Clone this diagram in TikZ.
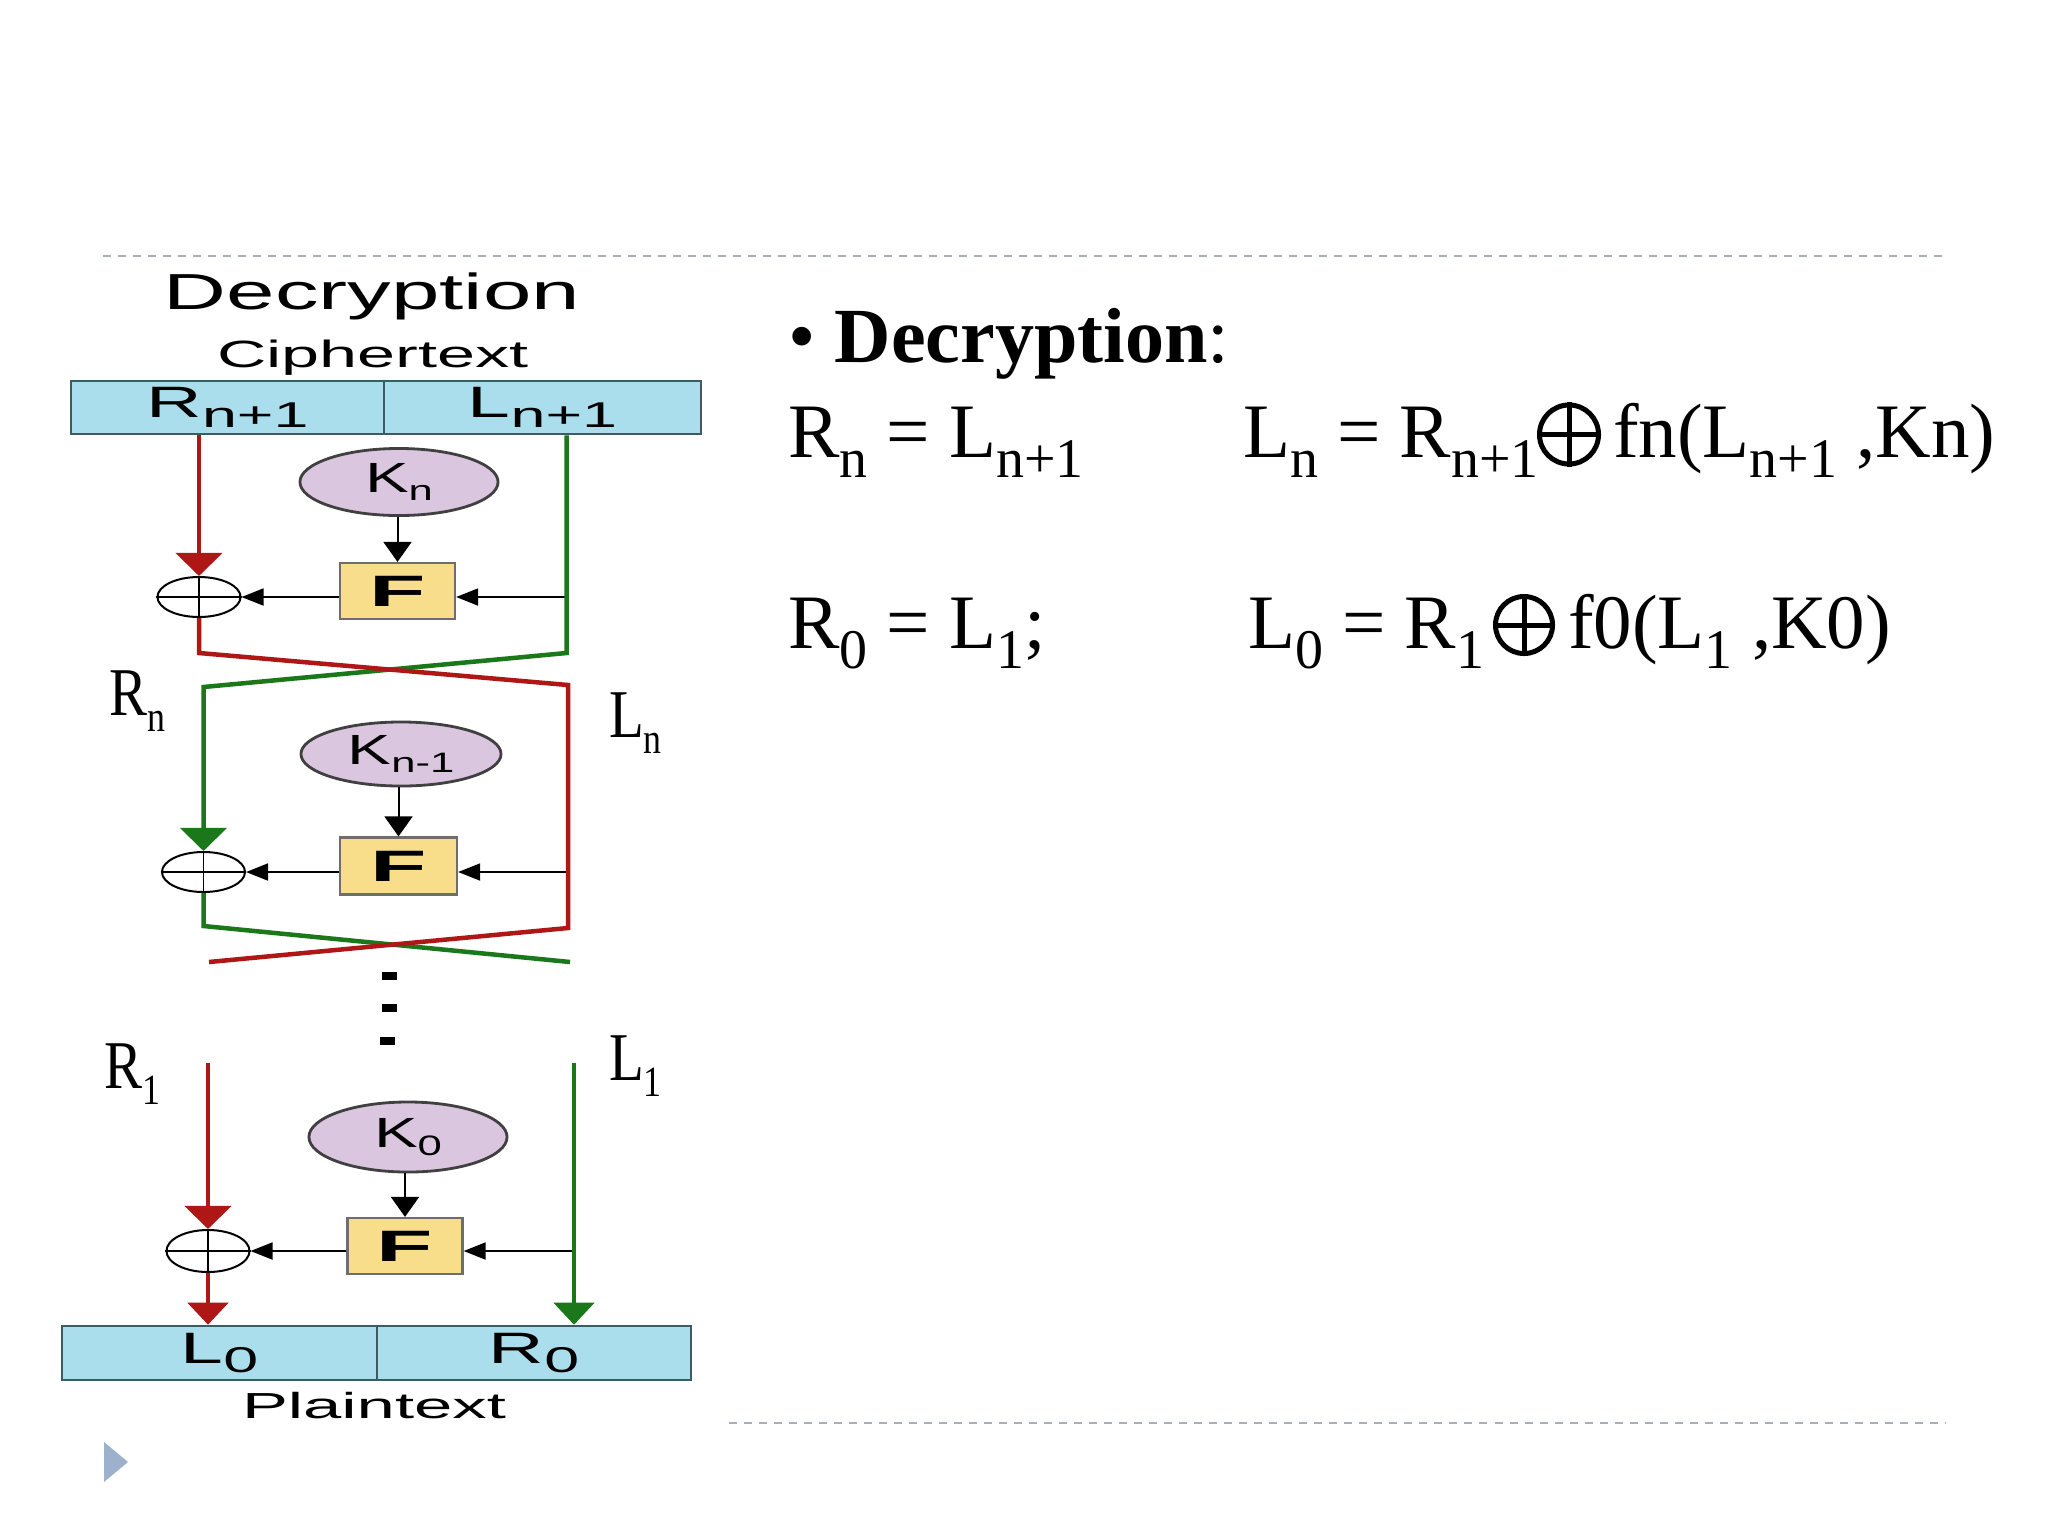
\documentclass[tikz,border=0pt]{standalone}
\usepackage{fontspec}
\usepackage{graphicx}
\setmainfont{Liberation Serif}
\newfontfamily\sansf{Liberation Sans}
\usetikzlibrary{shapes.geometric,arrows.meta}
\definecolor{redl}{RGB}{175,22,22}
\definecolor{grnl}{RGB}{26,120,26}
\definecolor{boxfill}{RGB}{170,222,236}
\definecolor{boxdraw}{RGB}{62,90,100}
\definecolor{keyfill}{RGB}{218,198,222}
\definecolor{keydraw}{RGB}{64,64,64}
\definecolor{ffill}{RGB}{248,221,138}
\definecolor{fdraw}{RGB}{110,110,110}
\definecolor{dashc}{RGB}{168,174,186}
\definecolor{tric}{RGB}{158,177,204}
\newcommand\dn[1]{\raisebox{-5.7pt}{\fontsize{15.9pt}{16pt}\selectfont #1}}
\newcommand\boxlbl[2]{\scalebox{1.75}[1]{\fontsize{12.5pt}{13pt}\selectfont\sansf #1\raisebox{-2.8pt}{\fontsize{10.2pt}{11pt}\selectfont #2}}}
\newcommand\keylbl[2]{\scalebox{1.55}[1]{\fontsize{12pt}{13pt}\selectfont\sansf #1\raisebox{-2.3pt}{\fontsize{8pt}{9pt}\selectfont #2}}}
\newcommand\sidelbl[2]{\scalebox{1}[1.2]{\fontsize{16.2pt}{17pt}\selectfont #1\raisebox{-4pt}{\fontsize{10.2pt}{11pt}\selectfont #2}}}
\newcommand\sanstxt[3]{\scalebox{#1}[1]{\fontsize{#2}{#2}\selectfont\sansf #3}}
\tikzset{
  halfbox/.style={draw=boxdraw, fill=boxfill, line width=0.025cm, minimum height=0.53cm, inner sep=0pt},
  keynode/.style={ellipse, draw=keydraw, fill=keyfill, line width=0.028cm, minimum width=1.98cm, minimum height=0.67cm, inner sep=0pt},
  fbox/.style={draw=fdraw, fill=ffill, line width=0.022cm, minimum width=1.15cm, minimum height=0.56cm, inner sep=0pt},
  xornode/.style={ellipse, draw=black, line width=0.02cm, minimum width=0.83cm, minimum height=0.40cm, inner sep=0pt},
  xorcross/.style={draw=black, line width=0.018cm},
  redw/.style={draw=redl, line width=0.045cm},
  grnw/.style={draw=grnl, line width=0.045cm},
  bigtip/.style={-{Triangle[length=0.23cm,width=0.46cm]}},
  endtip/.style={-{Triangle[length=0.22cm,width=0.40cm]}},
  blkv/.style={draw=black, line width=0.02cm, -{Triangle[length=0.20cm,width=0.28cm]}},
  blkh/.style={draw=black, line width=0.018cm, -{Triangle[length=0.22cm,width=0.17cm]}},
  eqtxt/.style={anchor=base west, inner sep=0pt, outer sep=0pt, font=\fontsize{21.9pt}{24pt}\selectfont},
  oplusnode/.style={circle, draw=black, line width=0.05cm, inner sep=0pt},
  sidetxt/.style={anchor=base west, inner sep=0pt, outer sep=0pt},
  sanslabel/.style={anchor=base, inner sep=0pt, outer sep=0pt}
}
\begin{document}
\begin{tikzpicture}[x=0.01cm,y=-0.01cm]
\useasboundingbox (0,0) rectangle (2048,1536);
\fill[white] (0,0) rectangle (2048,1536);

% slide decorations
\draw[dashc, line width=0.02cm, dash pattern=on 0.08cm off 0.07cm] (103,256) -- (1946,256);
\draw[dashc, line width=0.02cm, dash pattern=on 0.08cm off 0.07cm] (729,1423) -- (1946,1423);
\fill[tric] (104,1442) -- (128,1462) -- (104,1482) -- cycle;

% diagram titles
\node[sanslabel] (ttl) at (372,309) {\sanstxt{1.72}{14.4pt}{Decryption}};
\node[sanslabel] (ctx) at (373,367) {\sanstxt{1.8}{10.8pt}{Ciphertext}};
\node[sanslabel] (ptx) at (374,1418) {\sanstxt{1.9}{10.3pt}{Plaintext}};

% top box
\node[halfbox, minimum width=3.13cm] (rn1) at (227.5,407.5) {\boxlbl{R}{n+1}};
\node[halfbox, minimum width=3.17cm] (ln1) at (542.5,407.5) {\boxlbl{L}{n+1}};

% round 1
\node[keynode] (kn1) at (399,482) {\keylbl{K}{n}};
\node[fbox] (fn1) at (397.5,591) {\sanstxt{2.1}{12.5pt}{\bfseries F}};
\node[xornode] (xn1) at (199,597) {};
\draw[xorcross] (xn1.west) -- (xn1.east) (xn1.north) -- (xn1.south);

% round 2
\node[keynode, minimum height=0.64cm, minimum width=2.0cm] (kn2) at (401,754) {\keylbl{K}{n-1}};
\node[fbox, minimum width=1.17cm, minimum height=0.57cm] (fn2) at (398.5,866) {\sanstxt{2.1}{12.5pt}{\bfseries F}};
\node[xornode] (xn2) at (203.5,872) {};
\draw[xorcross] (xn2.west) -- (xn2.east) (xn2.north) -- (xn2.south);

% round 3
\node[keynode, minimum height=0.70cm] (kn3) at (408,1137) {\keylbl{K}{0}};
\node[fbox] (fn3) at (405,1246) {\sanstxt{2.1}{12.5pt}{\bfseries F}};
\node[xornode, minimum height=0.42cm] (xn3) at (208,1251) {};
\draw[xorcross] (xn3.west) -- (xn3.east) (xn3.north) -- (xn3.south);

% bottom box
\node[halfbox, minimum width=3.15cm, minimum height=0.54cm] (ln0) at (219.5,1353) {\boxlbl{L}{0}};
\node[halfbox, minimum width=3.14cm, minimum height=0.54cm] (rn0) at (534,1353) {\boxlbl{R}{0}};

% bend coordinates
\coordinate (rb1) at (199,653);
\coordinate (gb1) at (566.5,653);
\coordinate (rt2) at (568,685);
\coordinate (gt2) at (203.5,687);
\coordinate (rb2) at (568,928);
\coordinate (gb2) at (203.5,926);
\coordinate (re2) at (209,962);
\coordinate (ge2) at (570,962);
\coordinate (rs3) at (208,1063);
\coordinate (gs3) at (574,1063);

% black arrows
\draw[blkv] (fn1.north |- kn1.south) -- (fn1.north);
\draw[blkh] (gb1 |- xn1) -- (fn1.east |- xn1);
\draw[blkh] (fn1.west |- xn1) -- (xn1.east);

\draw[blkv] (fn2.north |- kn2.south) -- (fn2.north);
\draw[blkh] (rt2 |- xn2) -- (fn2.east |- xn2);
\draw[blkh] (fn2.west |- xn2) -- (xn2.east);

\draw[blkv] (fn3.north |- kn3.south) -- (fn3.north);
\draw[blkh] (gs3 |- xn3) -- (fn3.east |- xn3);
\draw[blkh] (fn3.west |- xn3) -- (xn3.east);

% green lines
\draw[grnw, bigtip] (ln1.south -| gb1) -- (gb1) -- (gt2) -- (xn2.north);
\draw[grnw] (xn2.south) -- (gb2) -- (ge2);
\draw[grnw, endtip] (gs3) -- (gs3 |- rn0.north);

% red lines
\draw[redw, bigtip] (rn1.south -| xn1.north) -- (xn1.north);
\draw[redw] (xn1.south) -- (rb1) -- (rt2) -- (rb2) -- (re2);
\draw[redw, bigtip] (rs3) -- (xn3.north);
\draw[redw, endtip] (xn3.south) -- (xn3.south |- ln0.north);

% continuation dots
\fill[black] (382,972) rectangle (397,980);
\fill[black] (382,1004) rectangle (397,1012);
\fill[black] (380,1037) rectangle (395,1045);

% side labels
\node[sidetxt] (lblrn) at (110,715) {\sidelbl{R}{n}};
\node[sidetxt] (lblln) at (609,737) {\sidelbl{L}{n}};
\node[sidetxt] (lblr1) at (104,1088) {\sidelbl{R}{1}};
\node[sidetxt] (lbll1) at (609,1080) {\sidelbl{L}{1}};

% right-hand text
\node[eqtxt, font=\fontsize{22.2pt}{24pt}\selectfont] (head) at (788,362) {•\ \textbf{Decryption}:};
\node[eqtxt] (eq1a) at (788,457) {R\dn{n} = L\dn{n+1}};
\node[eqtxt] (eq1b) at (1243,457) {L\dn{n} = R\dn{n+1}};
\node[oplusnode, minimum size=0.59cm] (op1) at (1569,434.5) {};
\draw[line width=0.05cm] (op1.north) -- (op1.south) (op1.west) -- (op1.east);
\node[eqtxt] (eq1c) at (1613,457) {fn(L\dn{n+1} ,Kn)};

\node[eqtxt] (eq2a) at (788,648) {R\dn{0} = L\dn{1};};
\node[eqtxt] (eq2b) at (1248,648) {L\dn{0} = R\dn{1}};
\node[oplusnode, minimum size=0.57cm] (op2) at (1524,625) {};
\draw[line width=0.05cm] (op2.north) -- (op2.south) (op2.west) -- (op2.east);
\node[eqtxt] (eq2c) at (1568,648) {f0(L\dn{1} ,K0)};
\end{tikzpicture}
\end{document}
